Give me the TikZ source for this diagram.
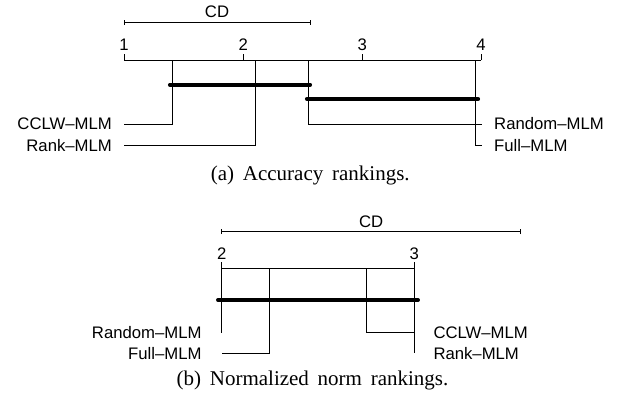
\documentclass[tikz,border=0pt]{standalone}
\usepackage{fontspec}
\setmainfont{Liberation Serif}
\setsansfont{Liberation Sans}
\usetikzlibrary{positioning}
\begin{document}
\begin{tikzpicture}[x=1pt,y=-1pt,
  thinline/.style={line width=0.9pt},
  clique/.style={line width=3.7pt,line cap=round},
  lab/.style={font=\sffamily\fontsize{16.7}{18}\selectfont,inner sep=0pt},
  num/.style={lab,anchor=base},
  captext/.style={font=\fontsize{21}{24}\selectfont,inner sep=0pt,anchor=base}]
\useasboundingbox (0,0) rectangle (623,394);

% ---------------- (a) ----------------
% CD bar
\coordinate (cdA1) at (124,22);
\coordinate (cdA2) at (310,22);
\draw[thinline] (cdA1) -- (cdA2);
\draw[thinline] ([yshift=-2.5]cdA1) -- ([yshift=2.5]cdA1);
\draw[thinline] ([yshift=-2.5]cdA2) -- ([yshift=2.5]cdA2);
\node[num] (cdAlab) at (217,17.3) {CD};
% axis
\coordinate (axA1) at (124,60);
\coordinate (axA2) at (243.3,60);
\coordinate (axA3) at (362.3,60);
\coordinate (axA4) at (481,60);
\draw[thinline] (axA1) -- (axA4);
\foreach \i in {1,2,3,4}{
  \draw[thinline] (axA\i) -- ++(0,-6.5);
  \node[num] at ([yshift=10]axA\i) {\i};
}
% rank points
\coordinate (rCCLWa) at (172,60);
\coordinate (rRanka) at (255,60);
\coordinate (rRanda) at (308.3,60);
\coordinate (rFulla) at (475.7,60);
\coordinate (eCCLWa) at (124,124);
\coordinate (eRanka) at (124,145.3);
\coordinate (eRanda) at (481.5,124);
\coordinate (eFulla) at (481.5,145.3);
\draw[thinline] (rCCLWa) |- (eCCLWa);
\draw[thinline] (rRanka) |- (eRanka);
\draw[thinline] (rRanda) |- (eRanda);
\draw[thinline] (rFulla) |- (eFulla);
\node[lab,left=12pt of eCCLWa] (lCCLWa) {CCLW–MLM};
\node[lab,left=12pt of eRanka] (lRanka) {Rank–MLM};
\node[lab,right=12.5pt of eRanda] (lRanda) {Random–MLM};
\node[lab,right=12.5pt of eFulla] (lFulla) {Full–MLM};
% cliques
\draw[clique] (169.8,84.7) -- (310.2,84.7);
\draw[clique] (306.8,99) -- (478.2,99);
\node[captext] (capA) at (310.3,180.7) {(a)\, Accuracy\, rankings.};

% ---------------- (b) ----------------
\coordinate (cdB1) at (221.7,231.7);
\coordinate (cdB2) at (520.7,231.7);
\draw[thinline] (cdB1) -- (cdB2);
\draw[thinline] ([yshift=-2.5]cdB1) -- ([yshift=2.5]cdB1);
\draw[thinline] ([yshift=-2.5]cdB2) -- ([yshift=2.5]cdB2);
\node[num] (cdBlab) at (371.2,227.3) {CD};
\coordinate (axB2) at (221.7,268.7);
\coordinate (axB3) at (414.3,268.7);
\draw[thinline] (axB2) -- (axB3);
\foreach \i in {2,3}{
  \draw[thinline] (axB\i) -- ++(0,-6.5);
  \node[num] at ([yshift=9.4]axB\i) {\i};
}
\coordinate (rRandb) at (221.7,268.7);
\coordinate (rFullb) at (269.3,268.7);
\coordinate (rCCLWb) at (366,268.7);
\coordinate (rRankb) at (414.3,268.7);
\coordinate (eRandb) at (221.7,332.7);
\coordinate (eFullb) at (221.7,353.3);
\coordinate (eCCLWb) at (414.3,332.5);
\coordinate (eRankb) at (414.3,353.3);
\draw[thinline] (rRandb) |- (eRandb);
\draw[thinline] (rFullb) |- (eFullb);
\draw[thinline] (rCCLWb) |- (eCCLWb);
\draw[thinline] (rRankb) |- (eRankb);
\node[lab,left=20pt of eRandb] (lRandb) {Random–MLM};
\node[lab,left=20pt of eFullb] (lFullb) {Full–MLM};
\node[lab,right=19pt of eCCLWb] (lCCLWb) {CCLW–MLM};
\node[lab,right=19pt of eRankb] (lRankb) {Rank–MLM};
\draw[clique] (217.9,300) -- (418.1,300);
\node[captext] (capB) at (312.5,385.7) {(b)\, Normalized\, norm\, rankings.};
\end{tikzpicture}
\end{document}
